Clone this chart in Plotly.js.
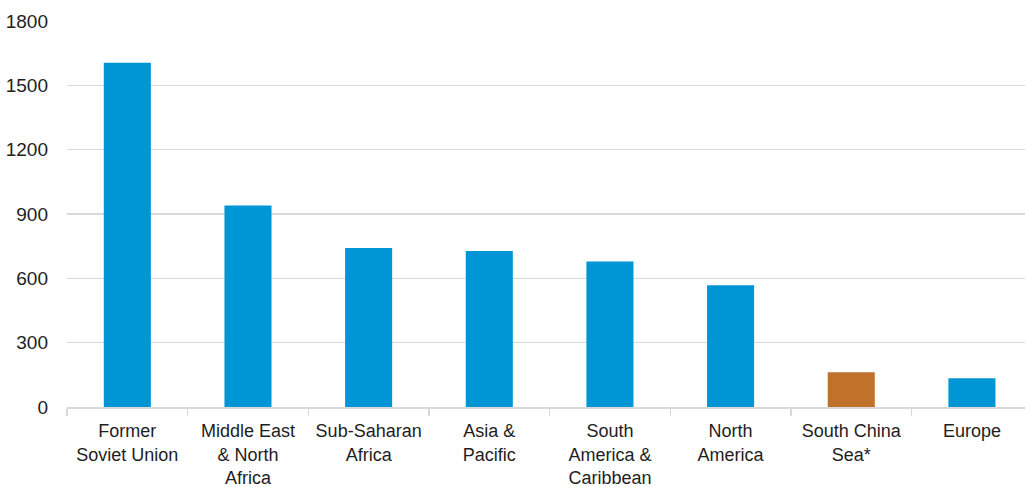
<!DOCTYPE html>
<html>
<head>
<meta charset="utf-8">
<script src="https://cdn.plot.ly/plotly-3.0.1.min.js"></script>
<style>html,body{margin:0;padding:0;background:#fff;}#chart{width:1025px;height:487px;}</style>
</head>
<body>
<div id="chart"></div>
<script>
const categories = ["Former<br>Soviet Union", "Middle East<br>& North<br>Africa", "Sub-Saharan<br>Africa", "Asia &<br>Pacific", "South<br>America &<br>Caribbean", "North<br>America", "South China<br>Sea*", "Europe"];
const values = [1605, 940, 741, 727, 679, 568, 162, 134];
const barColors = ["#0096D6", "#0096D6", "#0096D6", "#0096D6", "#0096D6", "#0096D6", "#C0722C", "#0096D6"];
const yTicks = [0, 300, 600, 900, 1200, 1500, 1800];

const trace = {
  type: "bar",
  x: categories,
  y: values,
  marker: {color: barColors, line: {width: 0}},
  hoverinfo: "x+y"
};

const layout = {
  width: 1025, height: 487,
  margin: {l: 67, r: 0, t: 21, b: 80},
  paper_bgcolor: "#fff", plot_bgcolor: "#fff",
  bargap: 0.61,
  showlegend: false,
  font: {family: "Liberation Sans, Arial, sans-serif", size: 18, color: "#1e1e1e"},
  xaxis: {
    type: "category",
    range: [-0.5, 7.44],
    showline: true, linecolor: "#d9d9d9", linewidth: 1.5,
    ticks: "outside", tickson: "boundaries", ticklen: 7, tickcolor: "#d9d9d9", tickwidth: 1.5,
    showgrid: false, zeroline: false,
    ticklabelstandoff: 7,
    tickfont: {size: 18, color: "#1e1e1e"}
  },
  yaxis: {
    range: [0, 1800],
    tickvals: yTicks,
    ticktext: yTicks.map(String),
    showgrid: true, gridcolor: "#d9d9d9", gridwidth: 1.5,
    zeroline: false, showline: false, ticks: "",
    ticklabelstandoff: 18,
    tickfont: {size: 19, color: "#1e1e1e"}
  }
};

Plotly.newPlot("chart", [trace], layout, {displayModeBar: false, staticPlot: true});
</script>
</body>
</html>
